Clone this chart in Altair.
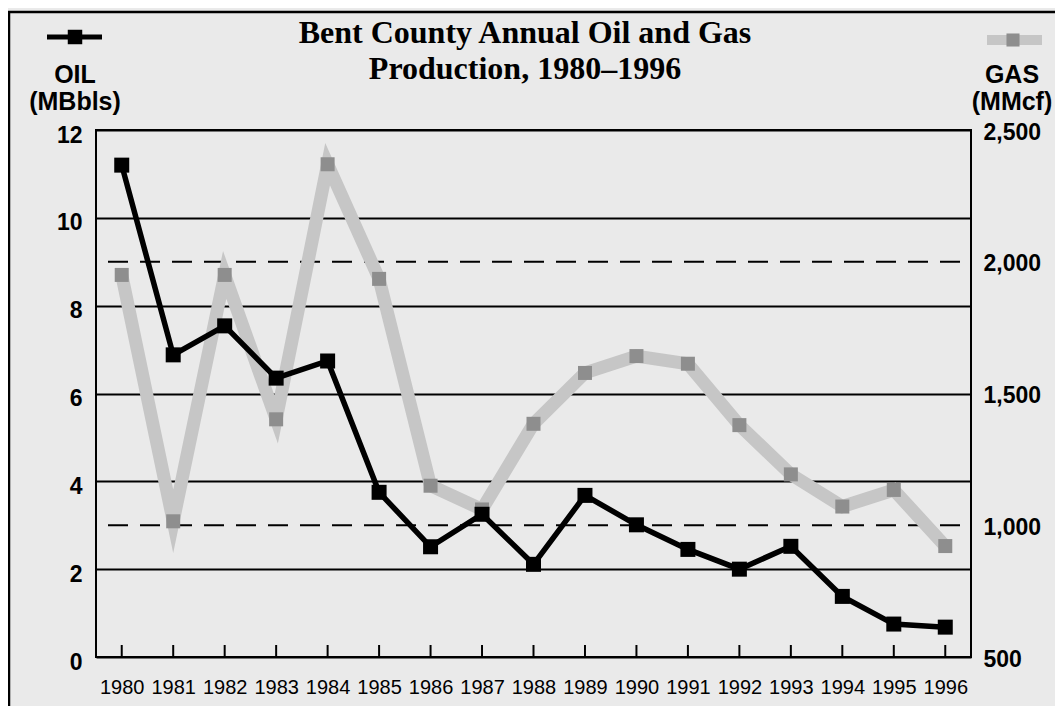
import altair as alt
import pandas as pd

# ---- data ----
years = [str(y) for y in range(1980, 1997)]
oil = [11.2, 6.88, 7.54, 6.35, 6.74, 3.75, 2.51, 3.25, 2.11, 3.68, 3.01, 2.45, 2.0, 2.52, 1.38, 0.75, 0.68]
gas = [1950, 1015, 1950, 1402, 2370, 1935, 1150, 1060, 1385, 1578, 1642, 1613, 1380, 1193, 1071, 1134, 921]
oil_ticks = [0, 2, 4, 6, 8, 10, 12]
gas_ticks = [500, 1000, 1500, 2000, 2500]
gas_ref = [1000, 2000]
title_lines = ["Bent County Annual Oil and Gas", "Production, 1980–1996"]
oil_legend = ["OIL", "(MBbls)"]
gas_legend = ["GAS", "(MMcf)"]

W, H = 875, 527
BG = "#eaeaea"
SANS = "'Liberation Sans', Arial, Helvetica, sans-serif"
NARROW = "'Liberation Sans Narrow', 'Arial Narrow', 'Liberation Sans', sans-serif"
SERIF = "'Liberation Serif', 'Times New Roman', serif"

df = pd.DataFrame({"year": years, "oil": oil, "gas": gas})
ref_df = pd.DataFrame({"gas": gas_ref})
one = pd.DataFrame({"k": [0]})

x_enc = alt.X(
    "year:O", sort=years, title=None,
    scale=alt.Scale(type="point", padding=0.5),
    axis=alt.Axis(labelAngle=0, ticks=False, domain=False, labelPadding=20,
                  labelFontSize=20, labelFont=NARROW, labelColor="black"),
)
oil_y = alt.Y(
    "oil:Q", title=None,
    scale=alt.Scale(domain=[0, 12], nice=False),
    axis=alt.Axis(orient="left", values=oil_ticks, grid=True, gridColor="black",
                  gridWidth=2, gridOpacity=1, domain=False, ticks=False,
                  labelFontSize=23, labelFontWeight="bold", labelFont=SANS,
                  labelPadding=14, labelOffset=5, labelColor="black", title=None),
)
gas_y = alt.Y(
    "gas:Q", title=None,
    scale=alt.Scale(domain=[500, 2500], nice=False, zero=False),
    axis=alt.Axis(orient="right", values=gas_ticks, format=",.0f", grid=False,
                  domain=False, ticks=False, labelFontSize=23, labelFontWeight="bold",
                  labelFont=SANS, labelPadding=12, labelOffset=2, labelColor="black",
                  title=None),
)

# gas layer
ref_rules = alt.Chart(ref_df).mark_rule(color="black", strokeWidth=2, strokeDash=[20, 12]).encode(
    y=gas_y, x=alt.value(12), x2=alt.value(W)
)
gas_line = alt.Chart(df).mark_line(color="#c6c6c6", strokeWidth=13, strokeJoin="miter",
                                   strokeMiterLimit=10).encode(x=x_enc, y=gas_y)
gas_pts = alt.Chart(df).mark_square(size=196, color="#8e8e8e", opacity=1).encode(x=x_enc, y=gas_y)
gas_layer = alt.layer(ref_rules, gas_line, gas_pts)

# oil layer
ticks = alt.Chart(df).mark_rule(color="black", strokeWidth=2).encode(
    x=x_enc, y=alt.value(H), y2=alt.value(H - 12)
)
oil_line = alt.Chart(df).mark_line(color="black", strokeWidth=5.5).encode(x=x_enc, y=oil_y)
oil_pts = alt.Chart(df).mark_square(size=225, color="black", opacity=1).encode(x=x_enc, y=oil_y)


def txt(s, x, y, size, font, weight="bold"):
    return alt.Chart(one).mark_text(text=s, fontSize=size, font=font, fontWeight=weight,
                                    align="center", baseline="alphabetic", color="black").encode(
        x=alt.value(x), y=alt.value(y))


def seg(x1, x2, y, color, width):
    return alt.Chart(one).mark_rule(color=color, strokeWidth=width).encode(
        x=alt.value(x1), x2=alt.value(x2), y=alt.value(y))


def vseg(x, y1, y2, color, width):
    return alt.Chart(one).mark_rule(color=color, strokeWidth=width).encode(
        x=alt.value(x), y=alt.value(y1), y2=alt.value(y2))


def sq(x, y, size, color):
    return alt.Chart(one).mark_square(size=size, color=color, opacity=1).encode(
        x=alt.value(x), y=alt.value(y))


decor = [
    txt(title_lines[0], 429, -87, 32, SERIF),
    txt(title_lines[1], 429, -51, 32, SERIF),
    txt(oil_legend[0], -21, -47, 25, SANS),
    txt(oil_legend[1], -21, -20, 25, SANS),
    txt(gas_legend[0], 916, -47, 25, SANS),
    txt(gas_legend[1], 916, -20, 25, SANS),
    seg(-49, 6, -93, "black", 5),
    sq(-21, -93, 210, "black"),
    seg(891, 946, -90, "#c6c6c6", 10),
    sq(917, -90, 170, "#8e8e8e"),
    seg(-89, 959, -118, "black", 2.5),
    vseg(-87, -118, 580, "black", 2.5),
]

oil_layer = alt.layer(ticks, oil_line, oil_pts, *decor)

chart = alt.layer(gas_layer, oil_layer).resolve_scale(y="independent").properties(
    width=W, height=H, background=BG,
    padding={"left": 88, "top": 122, "right": 84, "bottom": 49},
    autosize=alt.AutoSizeParams(type="none"),
).configure_view(stroke="black", strokeWidth=2)

chart.save("out.html", embed_options={"renderer": "svg", "actions": False})
